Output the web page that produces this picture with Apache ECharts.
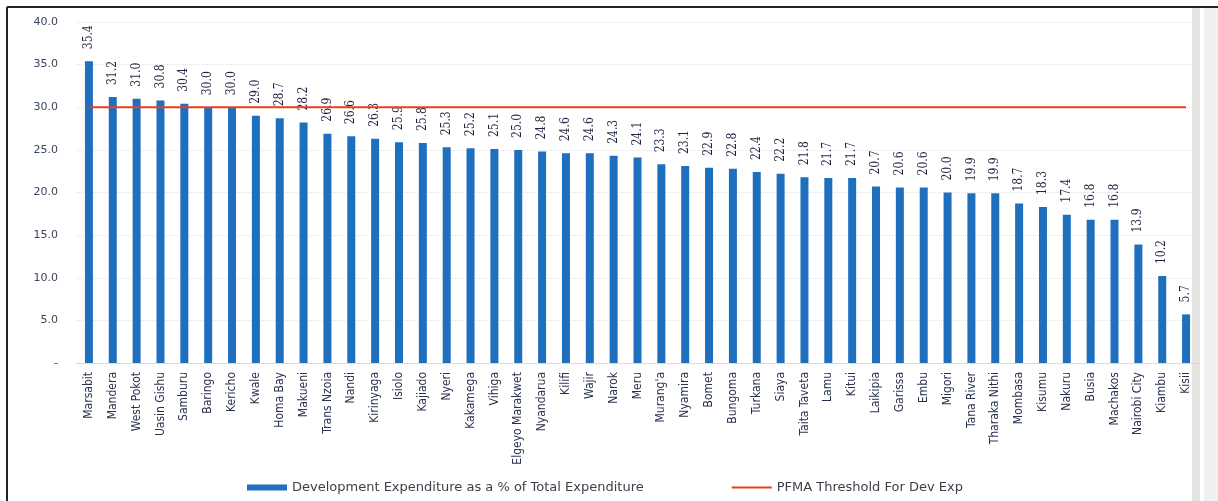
<!DOCTYPE html>
<html>
<head>
<meta charset="utf-8">
<script src="https://cdn.jsdelivr.net/npm/echarts@6/dist/echarts.min.js"></script>
<style>
  html, body { margin: 0; padding: 0; background: #fff; }
  #devExpChart { width: 1218px; height: 501px; }
</style>
</head>
<body>
<div id="devExpChart"></div>
<script>
// development expenditure share by county
var counties = ['Marsabit','Mandera','West Pokot','Uasin Gishu','Samburu','Baringo','Kericho','Kwale','Homa Bay','Makueni',
    'Trans Nzoia','Nandi','Kirinyaga','Isiolo','Kajiado','Nyeri','Kakamega','Vihiga','Elgeyo Marakwet','Nyandarua',
    'Kilifi','Wajir','Narok','Meru',"Murang'a",'Nyamira','Bomet','Bungoma','Turkana','Siaya',
    'Taita Taveta','Lamu','Kitui','Laikipia','Garissa','Embu','Migori','Tana River','Tharaka Nithi','Mombasa',
    'Kisumu','Nakuru','Busia','Machakos','Nairobi City','Kiambu','Kisii'];
var devShare = [35.4,31.2,31.0,30.8,30.4,30.0,30.0,29.0,28.7,28.2,
    26.9,26.6,26.3,25.9,25.8,25.3,25.2,25.1,25.0,24.8,
    24.6,24.6,24.3,24.1,23.3,23.1,22.9,22.8,22.4,22.2,
    21.8,21.7,21.7,20.7,20.6,20.6,20.0,19.9,19.9,18.7,
    18.3,17.4,16.8,16.8,13.9,10.2,5.7];
var threshold = 30.0;
var thresholdLine = counties.map(function () { return threshold; });

var devExpChart = echarts.init(document.getElementById('devExpChart')),
devExpOption = {
    animation: false,
    graphic: [
        { type: 'line', shape: { x1: 7, y1: 7, x2: 1218, y2: 7 }, style: { stroke: '#222', lineWidth: 2 } },
        { type: 'line', shape: { x1: 7, y1: 7, x2: 7, y2: 501 }, style: { stroke: '#222', lineWidth: 2 } },
        { type: 'rect', shape: { x: 1192, y: 8, width: 8, height: 493 }, style: { fill: '#e4e4e2' } },
        { type: 'rect', shape: { x: 1204, y: 8, width: 14, height: 493 }, style: { fill: '#eef0f2' } }
    ],
    legend: {
        left: 242,
        top: 476,
        itemGap: 88,
        itemWidth: 40,
        itemHeight: 6,
        textStyle: { fontFamily: 'DejaVu Sans', fontSize: 13, color: '#3b3f48' },
        data: [
            { name: 'Development Expenditure as a % of Total Expenditure', icon: 'rect', itemStyle: { color: '#1f6fbf' } },
            { name: 'PFMA Threshold For Dev Exp', icon: 'path://M0,0h40v2h-40z', itemStyle: { color: '#e8401c' } }
        ]
    },
    grid: {
        left: 77,
        right: 20,
        top: 22,
        bottom: 138
    },
    xAxis: {
        type: 'category',
        data: counties,
        axisTick: { show: false },
        axisLine: { lineStyle: { color: '#d8cce0', type: 'dotted' } },
        axisLabel: {
            rotate: 90,
            interval: 0,
            margin: 9,
            fontFamily: 'DejaVu Sans Condensed',
            fontSize: 12,
            color: '#2a3350'
        }
    },
    yAxis: {
        type: 'value',
        min: 0,
        max: 40,
        interval: 5,
        axisLine: { show: false },
        axisTick: { show: false },
        splitLine: { lineStyle: { color: '#dfe3ec', type: 'dotted' } },
        axisLabel: {
            margin: 19,
            fontFamily: 'DejaVu Sans',
            fontSize: 11,
            color: '#3a4560',
            formatter: function (v) { return v === 0 ? '-' : v.toFixed(1); }
        }
    },
    series: [
        {
            name: 'Development Expenditure as a % of Total Expenditure',
            type: 'bar',
            data: devShare,
            barWidth: 8,
            itemStyle: { color: '#1f6fbf' },
            label: {
                show: true,
                position: 'top',
                rotate: 90,
                align: 'left',
                verticalAlign: 'middle',
                distance: 12,
                fontFamily: 'DejaVu Serif Condensed',
                fontSize: 12,
                color: '#1e2440',
                formatter: function (p) { return p.value.toFixed(1); }
            }
        },
        {
            name: 'PFMA Threshold For Dev Exp',
            type: 'line',
            data: thresholdLine,
            symbol: 'none',
            lineStyle: { color: '#e8401c', width: 2 },
            itemStyle: { color: '#e8401c' },
            z: 5
        }
    ]
};
devExpChart.setOption(devExpOption);
</script>
</body>
</html>
